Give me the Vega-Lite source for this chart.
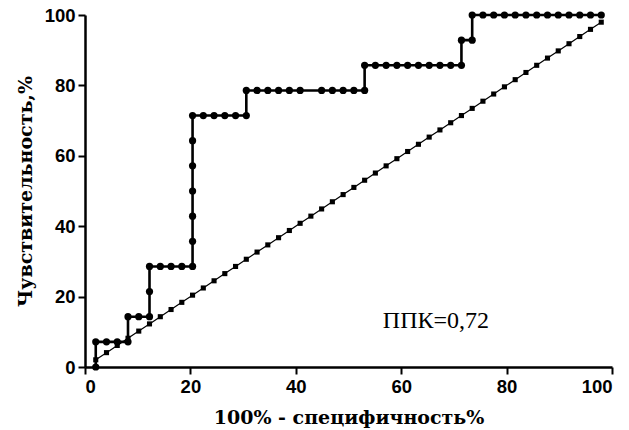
{
  "$schema": "https://vega.github.io/schema/vega-lite/v6.json",
  "width": 527,
  "height": 352,
  "autosize": {"type": "none"},
  "padding": {"left": 85, "top": 15, "right": 17, "bottom": 63},
  "background": "white",
  "config": {
    "view": {"stroke": null},
    "axis": {
      "grid": false,
      "domainColor": "black",
      "domainWidth": 2.5,
      "tickColor": "black",
      "tickWidth": 2,
      "tickSize": 7,
      "labelFont": "Liberation Sans",
      "labelFontWeight": "bold",
      "labelFontSize": 18.5,
      "labelColor": "black",
      "titleFont": "DejaVu Serif",
      "titleFontWeight": "bold",
      "titleFontSize": 19,
      "titleColor": "black"
    }
  },
  "datasets": {
    "roc": [
      {"fpr": 2.04, "tpr": 0},
      {"fpr": 2.04, "tpr": 7.14},
      {"fpr": 4.08, "tpr": 7.14},
      {"fpr": 6.12, "tpr": 7.14},
      {"fpr": 8.16, "tpr": 7.14},
      {"fpr": 8.16, "tpr": 14.29},
      {"fpr": 10.2, "tpr": 14.29},
      {"fpr": 12.24, "tpr": 14.29},
      {"fpr": 12.24, "tpr": 21.43},
      {"fpr": 12.24, "tpr": 28.57},
      {"fpr": 14.29, "tpr": 28.57},
      {"fpr": 16.33, "tpr": 28.57},
      {"fpr": 18.37, "tpr": 28.57},
      {"fpr": 20.41, "tpr": 28.57},
      {"fpr": 20.41, "tpr": 35.71},
      {"fpr": 20.41, "tpr": 42.86},
      {"fpr": 20.41, "tpr": 50},
      {"fpr": 20.41, "tpr": 57.14},
      {"fpr": 20.41, "tpr": 64.29},
      {"fpr": 20.41, "tpr": 71.43},
      {"fpr": 22.45, "tpr": 71.43},
      {"fpr": 24.49, "tpr": 71.43},
      {"fpr": 26.53, "tpr": 71.43},
      {"fpr": 28.57, "tpr": 71.43},
      {"fpr": 30.61, "tpr": 71.43},
      {"fpr": 30.61, "tpr": 78.57},
      {"fpr": 32.65, "tpr": 78.57},
      {"fpr": 34.69, "tpr": 78.57},
      {"fpr": 36.73, "tpr": 78.57},
      {"fpr": 38.78, "tpr": 78.57},
      {"fpr": 40.82, "tpr": 78.57},
      {"fpr": 44.9, "tpr": 78.57},
      {"fpr": 46.94, "tpr": 78.57},
      {"fpr": 48.98, "tpr": 78.57},
      {"fpr": 51.02, "tpr": 78.57},
      {"fpr": 53.06, "tpr": 78.57},
      {"fpr": 53.06, "tpr": 85.71},
      {"fpr": 55.1, "tpr": 85.71},
      {"fpr": 57.14, "tpr": 85.71},
      {"fpr": 59.18, "tpr": 85.71},
      {"fpr": 61.22, "tpr": 85.71},
      {"fpr": 63.27, "tpr": 85.71},
      {"fpr": 65.31, "tpr": 85.71},
      {"fpr": 67.35, "tpr": 85.71},
      {"fpr": 69.39, "tpr": 85.71},
      {"fpr": 71.43, "tpr": 85.71},
      {"fpr": 71.43, "tpr": 92.86},
      {"fpr": 73.47, "tpr": 92.86},
      {"fpr": 73.47, "tpr": 100},
      {"fpr": 75.51, "tpr": 100},
      {"fpr": 77.55, "tpr": 100},
      {"fpr": 79.59, "tpr": 100},
      {"fpr": 81.63, "tpr": 100},
      {"fpr": 83.67, "tpr": 100},
      {"fpr": 85.71, "tpr": 100},
      {"fpr": 87.76, "tpr": 100},
      {"fpr": 89.8, "tpr": 100},
      {"fpr": 91.84, "tpr": 100},
      {"fpr": 93.88, "tpr": 100},
      {"fpr": 95.92, "tpr": 100},
      {"fpr": 97.96, "tpr": 100}
    ],
    "diag": [
      {"fpr": 2.04, "tpr": 2.04}, {"fpr": 4.08, "tpr": 4.08}, {"fpr": 6.12, "tpr": 6.12},
      {"fpr": 8.16, "tpr": 8.16}, {"fpr": 10.2, "tpr": 10.2}, {"fpr": 12.24, "tpr": 12.24},
      {"fpr": 14.29, "tpr": 14.29}, {"fpr": 16.33, "tpr": 16.33}, {"fpr": 18.37, "tpr": 18.37},
      {"fpr": 20.41, "tpr": 20.41}, {"fpr": 22.45, "tpr": 22.45}, {"fpr": 24.49, "tpr": 24.49},
      {"fpr": 26.53, "tpr": 26.53}, {"fpr": 28.57, "tpr": 28.57}, {"fpr": 30.61, "tpr": 30.61},
      {"fpr": 32.65, "tpr": 32.65}, {"fpr": 34.69, "tpr": 34.69}, {"fpr": 36.73, "tpr": 36.73},
      {"fpr": 38.78, "tpr": 38.78}, {"fpr": 40.82, "tpr": 40.82}, {"fpr": 42.86, "tpr": 42.86},
      {"fpr": 44.9, "tpr": 44.9}, {"fpr": 46.94, "tpr": 46.94}, {"fpr": 48.98, "tpr": 48.98},
      {"fpr": 51.02, "tpr": 51.02}, {"fpr": 53.06, "tpr": 53.06}, {"fpr": 55.1, "tpr": 55.1},
      {"fpr": 57.14, "tpr": 57.14}, {"fpr": 59.18, "tpr": 59.18}, {"fpr": 61.22, "tpr": 61.22},
      {"fpr": 63.27, "tpr": 63.27}, {"fpr": 65.31, "tpr": 65.31}, {"fpr": 67.35, "tpr": 67.35},
      {"fpr": 69.39, "tpr": 69.39}, {"fpr": 71.43, "tpr": 71.43}, {"fpr": 73.47, "tpr": 73.47},
      {"fpr": 75.51, "tpr": 75.51}, {"fpr": 77.55, "tpr": 77.55}, {"fpr": 79.59, "tpr": 79.59},
      {"fpr": 81.63, "tpr": 81.63}, {"fpr": 83.67, "tpr": 83.67}, {"fpr": 85.71, "tpr": 85.71},
      {"fpr": 87.76, "tpr": 87.76}, {"fpr": 89.8, "tpr": 89.8}, {"fpr": 91.84, "tpr": 91.84},
      {"fpr": 93.88, "tpr": 93.88}, {"fpr": 95.92, "tpr": 95.92}, {"fpr": 97.96, "tpr": 97.96}
    ],
    "note": [{"label": "ППК=0,72", "nx": 66.6, "ny": 11}]
  },
  "layer": [
    {
      "data": {"name": "diag"},
      "mark": {"type": "line", "color": "black", "strokeWidth": 1.2, "clip": false},
      "encoding": {
        "x": {
          "field": "fpr", "type": "quantitative",
          "scale": {"domain": [0, 100], "nice": false, "zero": true},
          "axis": {"values": [0, 20, 40, 60, 80, 100], "title": "100% - специфичность%", "labelPadding": 3, "titleBaseline": "alphabetic", "titleY": 56}
        },
        "y": {
          "field": "tpr", "type": "quantitative",
          "scale": {"domain": [0, 100], "nice": false, "zero": true},
          "axis": {"values": [0, 20, 40, 60, 80, 100], "title": "Чувствительность,%", "labelPadding": 3, "titleX": -60, "titleBaseline": "middle"}
        },
        "order": {"field": "fpr"}
      }
    },
    {
      "data": {"name": "diag"},
      "mark": {"type": "point", "shape": "square", "filled": true, "color": "black", "opacity": 1, "size": 26, "clip": false},
      "encoding": {
        "x": {"field": "fpr", "type": "quantitative"},
        "y": {"field": "tpr", "type": "quantitative"}
      }
    },
    {
      "data": {"name": "roc"},
      "mark": {"type": "line", "color": "black", "strokeWidth": 2.6, "clip": false},
      "encoding": {
        "x": {"field": "fpr", "type": "quantitative"},
        "y": {"field": "tpr", "type": "quantitative"},
        "order": {"field": "tpr"}
      }
    },
    {
      "data": {"name": "roc"},
      "mark": {"type": "point", "shape": "circle", "filled": true, "color": "black", "opacity": 1, "size": 52, "clip": false},
      "encoding": {
        "x": {"field": "fpr", "type": "quantitative"},
        "y": {"field": "tpr", "type": "quantitative"}
      }
    },
    {
      "data": {"name": "note"},
      "mark": {"type": "text", "font": "Liberation Serif", "fontSize": 24, "color": "black", "align": "center", "baseline": "alphabetic"},
      "encoding": {
        "text": {"field": "label", "type": "nominal"},
        "x": {"field": "nx", "type": "quantitative"},
        "y": {"field": "ny", "type": "quantitative"}
      }
    }
  ]
}
